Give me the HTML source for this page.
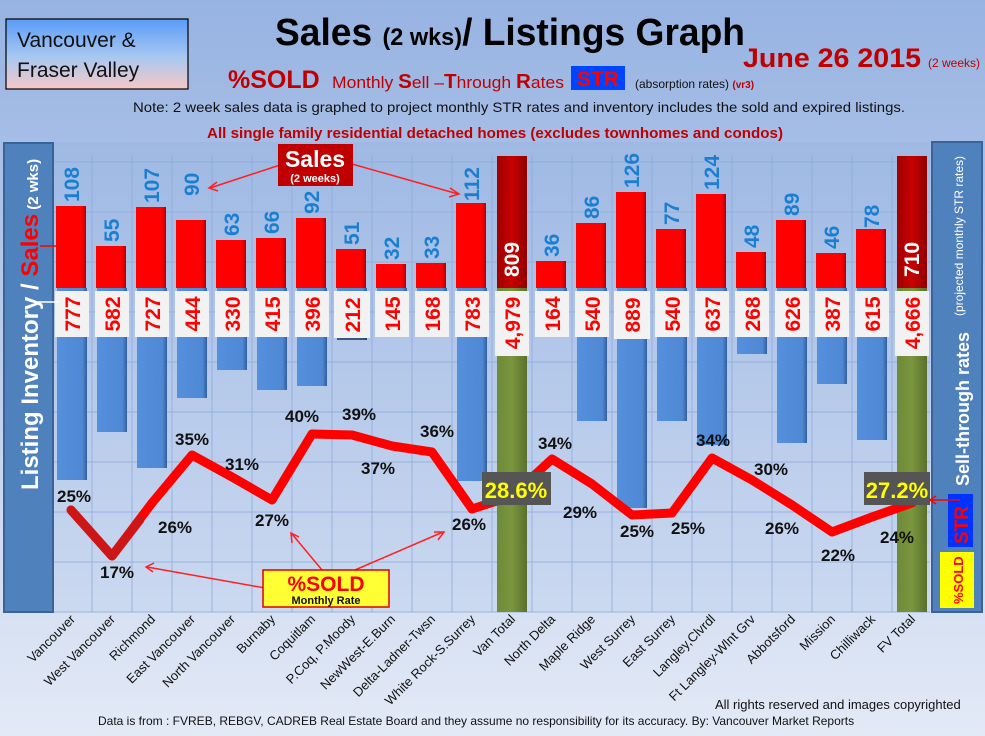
<!DOCTYPE html>
<html><head><meta charset="utf-8"><style>
html,body{margin:0;padding:0;width:985px;height:736px;overflow:hidden}
svg{display:block}
text{font-family:"Liberation Sans",sans-serif}
</style></head><body>
<svg width="985" height="736" viewBox="0 0 985 736" xmlns="http://www.w3.org/2000/svg">
<defs>
<linearGradient id="bg" x1="0" y1="0" x2="0" y2="1"><stop offset="0" stop-color="#97b3e2"/><stop offset="1" stop-color="#e3eaf6"/></linearGradient>
<linearGradient id="pa" x1="0" y1="0" x2="0" y2="1"><stop offset="0" stop-color="#9fb9e4"/><stop offset="1" stop-color="#cbd9f0"/></linearGradient>
<linearGradient id="vb" x1="0" y1="0" x2="0" y2="1"><stop offset="0" stop-color="#5a9cf8"/><stop offset="0.55" stop-color="#a8c8f0"/><stop offset="1" stop-color="#f7c8c8"/></linearGradient>
<linearGradient id="rb" x1="0" y1="0" x2="1" y2="0"><stop offset="0" stop-color="#ff0000"/><stop offset="0.85" stop-color="#ff0000"/><stop offset="1" stop-color="#b00000"/></linearGradient>
<linearGradient id="bb" x1="0" y1="0" x2="1" y2="0"><stop offset="0" stop-color="#5590dc"/><stop offset="0.85" stop-color="#4f88d4"/><stop offset="1" stop-color="#2f5fa0"/></linearGradient>
<linearGradient id="gb" x1="0" y1="0" x2="1" y2="0"><stop offset="0" stop-color="#6f8a38"/><stop offset="0.5" stop-color="#7a963e"/><stop offset="1" stop-color="#5a702c"/></linearGradient>
<linearGradient id="db" x1="0" y1="0" x2="1" y2="0"><stop offset="0" stop-color="#a00000"/><stop offset="0.5" stop-color="#c80000"/><stop offset="1" stop-color="#900000"/></linearGradient>
</defs>
<rect width="985" height="736" fill="url(#bg)"/>
<rect x="53" y="142" width="877" height="470" fill="url(#pa)"/>
<g stroke="#8eaadb" stroke-width="1" opacity="0.8">
<line x1="53" y1="162" x2="930" y2="162"/><line x1="53" y1="212" x2="930" y2="212"/><line x1="53" y1="262" x2="930" y2="262"/><line x1="53" y1="312" x2="930" y2="312"/><line x1="53" y1="362" x2="930" y2="362"/><line x1="53" y1="412" x2="930" y2="412"/><line x1="53" y1="462" x2="930" y2="462"/><line x1="53" y1="512" x2="930" y2="512"/><line x1="53" y1="562" x2="930" y2="562"/><line x1="53" y1="612" x2="930" y2="612"/>
<line x1="92" y1="155" x2="92" y2="612"/><line x1="132" y1="155" x2="132" y2="612"/><line x1="172" y1="155" x2="172" y2="612"/><line x1="212" y1="155" x2="212" y2="612"/><line x1="252" y1="155" x2="252" y2="612"/><line x1="292" y1="155" x2="292" y2="612"/><line x1="332" y1="155" x2="332" y2="612"/><line x1="372" y1="155" x2="372" y2="612"/><line x1="412" y1="155" x2="412" y2="612"/><line x1="452" y1="155" x2="452" y2="612"/><line x1="492" y1="155" x2="492" y2="612"/><line x1="532" y1="155" x2="532" y2="612"/><line x1="572" y1="155" x2="572" y2="612"/><line x1="612" y1="155" x2="612" y2="612"/><line x1="652" y1="155" x2="652" y2="612"/><line x1="692" y1="155" x2="692" y2="612"/><line x1="732" y1="155" x2="732" y2="612"/><line x1="772" y1="155" x2="772" y2="612"/><line x1="812" y1="155" x2="812" y2="612"/><line x1="852" y1="155" x2="852" y2="612"/><line x1="892" y1="155" x2="892" y2="612"/>
</g>

<g fill="url(#bb)">
<rect x="57" y="288" width="30" height="192"/><rect x="97" y="288" width="30" height="144"/><rect x="137" y="288" width="30" height="180"/><rect x="177" y="288" width="30" height="110"/><rect x="217" y="288" width="30" height="82"/><rect x="257" y="288" width="30" height="102"/><rect x="297" y="288" width="30" height="98"/><rect x="337" y="288" width="30" height="52"/><rect x="377" y="288" width="30" height="36"/><rect x="417" y="288" width="30" height="41"/><rect x="457" y="288" width="30" height="193"/>
<rect x="537" y="288" width="30" height="41"/><rect x="577" y="288" width="30" height="133"/><rect x="617" y="288" width="30" height="220"/><rect x="657" y="288" width="30" height="133"/><rect x="697" y="288" width="30" height="157"/><rect x="737" y="288" width="30" height="66"/><rect x="777" y="288" width="30" height="155"/><rect x="817" y="288" width="30" height="96"/><rect x="857" y="288" width="30" height="152"/>
</g>
<g fill="url(#rb)">
<rect x="56" y="206" width="30" height="82"/><rect x="96" y="246" width="30" height="42"/><rect x="136" y="207" width="30" height="81"/><rect x="176" y="220" width="30" height="68"/><rect x="216" y="240" width="30" height="48"/><rect x="256" y="238" width="30" height="50"/><rect x="296" y="218" width="30" height="70"/><rect x="336" y="249" width="30" height="39"/><rect x="376" y="264" width="30" height="24"/><rect x="416" y="263" width="30" height="25"/><rect x="456" y="203" width="30" height="85"/>
<rect x="536" y="261" width="30" height="27"/><rect x="576" y="223" width="30" height="65"/><rect x="616" y="192" width="30" height="96"/><rect x="656" y="229" width="30" height="59"/><rect x="696" y="194" width="30" height="94"/><rect x="736" y="252" width="30" height="36"/><rect x="776" y="220" width="30" height="68"/><rect x="816" y="253" width="30" height="35"/><rect x="856" y="229" width="30" height="59"/>
</g>
<rect x="497" y="156" width="30" height="132" fill="url(#db)"/><rect x="497" y="288" width="30" height="324" fill="url(#gb)"/>
<rect x="897" y="156" width="30" height="132" fill="url(#db)"/><rect x="897" y="288" width="30" height="324" fill="url(#gb)"/>

<g font-size="21" font-weight="bold" fill="#1a7fd0">
<text transform="translate(79,202) rotate(-90)">108</text>
<text transform="translate(119,242) rotate(-90)">55</text>
<text transform="translate(159,203) rotate(-90)">107</text>
<text transform="translate(199,196) rotate(-90)">90</text>
<text transform="translate(239,236) rotate(-90)">63</text>
<text transform="translate(279,234) rotate(-90)">66</text>
<text transform="translate(319,214) rotate(-90)">92</text>
<text transform="translate(359,245) rotate(-90)">51</text>
<text transform="translate(399,260) rotate(-90)">32</text>
<text transform="translate(439,259) rotate(-90)">33</text>
<text transform="translate(479,201) rotate(-90)">112</text>
<text transform="translate(559,257) rotate(-90)">36</text>
<text transform="translate(599,219) rotate(-90)">86</text>
<text transform="translate(639,188) rotate(-90)">126</text>
<text transform="translate(679,225) rotate(-90)">77</text>
<text transform="translate(719,190) rotate(-90)">124</text>
<text transform="translate(759,248) rotate(-90)">48</text>
<text transform="translate(799,216) rotate(-90)">89</text>
<text transform="translate(839,249) rotate(-90)">46</text>
<text transform="translate(879,228) rotate(-90)">78</text>
</g>
<g font-size="21" font-weight="bold" fill="#fff">
<text transform="translate(519,277) rotate(-90)">809</text>
<text transform="translate(919,277) rotate(-90)">710</text>
</g>

<g fill="#f2f2f2">
<rect x="55" y="291" width="34" height="46"/><rect x="95" y="291" width="34" height="46"/><rect x="135" y="291" width="34" height="46"/><rect x="175" y="291" width="34" height="46"/><rect x="215" y="291" width="34" height="46"/><rect x="255" y="291" width="34" height="46"/><rect x="295" y="291" width="34" height="46"/><rect x="334" y="291" width="36" height="47"/><rect x="375" y="291" width="34" height="46"/><rect x="415" y="291" width="34" height="46"/><rect x="455" y="291" width="34" height="46"/>
<rect x="495" y="291" width="34" height="65"/><rect x="535" y="291" width="34" height="46"/><rect x="575" y="291" width="34" height="46"/><rect x="614" y="291" width="36" height="48"/><rect x="655" y="291" width="34" height="46"/><rect x="695" y="291" width="34" height="46"/><rect x="735" y="291" width="34" height="46"/><rect x="775" y="291" width="34" height="46"/><rect x="815" y="291" width="34" height="46"/><rect x="855" y="291" width="34" height="46"/><rect x="895" y="291" width="34" height="65"/>
</g>
<line x1="337" y1="339" x2="367" y2="339" stroke="#222" stroke-width="1"/>
<g font-size="21" font-weight="bold" fill="#ff0000" text-anchor="middle">
<text transform="translate(80,314) rotate(-90)">777</text>
<text transform="translate(120,314) rotate(-90)">582</text>
<text transform="translate(160,314) rotate(-90)">727</text>
<text transform="translate(200,314) rotate(-90)">444</text>
<text transform="translate(240,314) rotate(-90)">330</text>
<text transform="translate(280,314) rotate(-90)">415</text>
<text transform="translate(320,314) rotate(-90)">396</text>
<text transform="translate(360,315) rotate(-90)">212</text>
<text transform="translate(400,314) rotate(-90)">145</text>
<text transform="translate(440,314) rotate(-90)">168</text>
<text transform="translate(480,314) rotate(-90)">783</text>
<text transform="translate(520,323) rotate(-90)">4,979</text>
<text transform="translate(560,314) rotate(-90)">164</text>
<text transform="translate(600,314) rotate(-90)">540</text>
<text transform="translate(640,315) rotate(-90)">889</text>
<text transform="translate(680,314) rotate(-90)">540</text>
<text transform="translate(720,314) rotate(-90)">637</text>
<text transform="translate(760,314) rotate(-90)">268</text>
<text transform="translate(800,314) rotate(-90)">626</text>
<text transform="translate(840,314) rotate(-90)">387</text>
<text transform="translate(880,314) rotate(-90)">615</text>
<text transform="translate(920,323) rotate(-90)">4,666</text>
</g>

<polyline points="71,510 112,556 152,503 192,455 232,477 272,500 312,434 352,435 392,446 432,452 472,509 512,496 552,459 592,484 632,515 672,513 712,458 752,480 792,505 832,532 872,517 912,503" fill="none" stroke="#ff0000" stroke-width="9" stroke-linejoin="round" stroke-linecap="round"/>
<polyline points="71,510 112,556 140,520" fill="none" stroke="#b82020" stroke-width="9" stroke-linejoin="round" stroke-linecap="round" opacity="0.7"/>

<g font-size="17" font-weight="bold" fill="#111">
<text x="57" y="502">25%</text><text x="100" y="578">17%</text><text x="158" y="533">26%</text><text x="175" y="445">35%</text><text x="225" y="470">31%</text><text x="255" y="526">27%</text><text x="285" y="422">40%</text><text x="342" y="420">39%</text><text x="361" y="474">37%</text><text x="420" y="437">36%</text><text x="452" y="530">26%</text>
<text x="538" y="449">34%</text><text x="563" y="518">29%</text><text x="620" y="537">25%</text><text x="671" y="534">25%</text><text x="696" y="446">34%</text><text x="754" y="475">30%</text><text x="765" y="534">26%</text><text x="821" y="561">22%</text><text x="880" y="543">24%</text>
</g>
<rect x="482" y="472" width="69" height="33" fill="#555"/>
<text x="516" y="498" font-size="22" font-weight="bold" fill="#ffff00" text-anchor="middle">28.6%</text>
<rect x="864" y="472" width="66" height="33" fill="#555"/>
<text x="897" y="498" font-size="22" font-weight="bold" fill="#ffff00" text-anchor="middle">27.2%</text>

<rect x="4" y="143" width="49" height="469" fill="#4f81bd" stroke="#3a6399" stroke-width="2"/>
<text transform="translate(38,490) rotate(-90)" font-size="24" font-weight="bold" fill="#fff">Listing Inventory / <tspan fill="#ff0000">Sales</tspan><tspan font-size="15"> (2  wks)</tspan></text>
<line x1="40" y1="246" x2="64" y2="246" stroke="#ff0000" stroke-width="1.5"/>
<line x1="38" y1="302" x2="58" y2="302" stroke="#fff" stroke-width="1.5"/>
<rect x="932" y="142" width="50" height="470" fill="#4f81bd" stroke="#3a6399" stroke-width="2"/>
<text transform="translate(969,486) rotate(-90)" font-size="18" font-weight="bold" fill="#fff">Sell-through rates</text>
<text transform="translate(963,316) rotate(-90)" font-size="12" fill="#fff">(projected monthly STR rates)</text>
<rect x="948" y="494" width="25" height="53" fill="#0033ff"/>
<text transform="translate(968,544) rotate(-90)" font-size="19" font-weight="bold" fill="#ff0000">STR</text>
<rect x="940" y="552" width="34" height="56" fill="#ffff00"/>
<text transform="translate(963,604) rotate(-90)" font-size="13" font-weight="bold" fill="#ff0000">%SOLD</text>
<line x1="932" y1="500" x2="960" y2="500" stroke="#ff0000" stroke-width="1.5"/>
<polyline points="936,496 930,500 936,504" fill="none" stroke="#ff0000" stroke-width="1.5"/>

<g stroke="#ff2020" stroke-width="1.5" fill="none">
<line x1="280" y1="165" x2="210" y2="188"/><polyline points="217,182 209,188 218,191"/>
<line x1="352" y1="164" x2="458" y2="194"/><polyline points="450,188 459,194 449,197"/>
<line x1="265" y1="588" x2="147" y2="567"/><polyline points="154,563 146,567 153,572"/>
<line x1="322" y1="570" x2="292" y2="534"/><polyline points="292,543 291,533 299,537"/>
<line x1="355" y1="570" x2="443" y2="532"/><polyline points="434,532 444,532 438,540"/>
</g>
<rect x="278" y="144" width="75" height="42" fill="#c00000"/>
<text x="315" y="167" font-size="23" font-weight="bold" fill="#fff" text-anchor="middle">Sales</text>
<text x="315" y="182" font-size="11" font-weight="bold" fill="#fff" text-anchor="middle">(2 weeks)</text>
<rect x="263" y="570" width="126" height="37" fill="#ffff33" stroke="#e00000" stroke-width="1.5"/>
<text x="326" y="591" font-size="21" font-weight="bold" fill="#ff0000" text-anchor="middle">%SOLD</text>
<text x="326" y="604" font-size="11" font-weight="bold" fill="#111" text-anchor="middle">Monthly Rate</text>

<g font-size="13" fill="#111" text-anchor="end">
<text transform="translate(76,620) rotate(-45)">Vancouver</text>
<text transform="translate(116,620) rotate(-45)">West Vancouver</text>
<text transform="translate(156,620) rotate(-45)">Richmond</text>
<text transform="translate(196,620) rotate(-45)">East Vancouver</text>
<text transform="translate(236,620) rotate(-45)">North Vancouver</text>
<text transform="translate(276,620) rotate(-45)">Burnaby</text>
<text transform="translate(316,620) rotate(-45)">Coquitlam</text>
<text transform="translate(356,620) rotate(-45)">P.Coq, P.Moody</text>
<text transform="translate(396,620) rotate(-45)">NewWest-E.Burn</text>
<text transform="translate(436,620) rotate(-45)">Delta-Ladner-Twsn</text>
<text transform="translate(476,620) rotate(-45)">White Rock-S.Surrey</text>
<text transform="translate(516,620) rotate(-45)">Van Total</text>
<text transform="translate(556,620) rotate(-45)">North Delta</text>
<text transform="translate(596,620) rotate(-45)">Maple Ridge</text>
<text transform="translate(636,620) rotate(-45)">West Surrey</text>
<text transform="translate(676,620) rotate(-45)">East Surrey</text>
<text transform="translate(716,620) rotate(-45)">Langley,Clvrdl</text>
<text transform="translate(756,620) rotate(-45)">Ft Langley-Wlnt Grv</text>
<text transform="translate(796,620) rotate(-45)">Abbotsford</text>
<text transform="translate(836,620) rotate(-45)">Mission</text>
<text transform="translate(876,620) rotate(-45)">Chilliwack</text>
<text transform="translate(916,620) rotate(-45)">FV Total</text>
</g>
<text x="715" y="709" font-size="13" fill="#111">All rights reserved and  images copyrighted</text>
<text x="98" y="725" font-size="12" fill="#111">Data is from : FVREB, REBGV, CADREB Real Estate Board and they assume no responsibility for its accuracy. By: Vancouver Market Reports</text>

<rect x="6" y="19" width="182" height="70" fill="url(#vb)" stroke="#000" stroke-width="1.2"/>
<text x="17" y="47" font-size="21" fill="#111">Vancouver &amp;</text>
<text x="17" y="77" font-size="21" fill="#111">Fraser Valley</text>
<text x="275" y="45" font-size="38" font-weight="bold" fill="#000" textLength="470" lengthAdjust="spacingAndGlyphs">Sales <tspan font-size="24">(2 wks)</tspan>/ Listings Graph</text>
<text x="743" y="67" font-size="27" font-weight="bold" fill="#c00000" textLength="178" lengthAdjust="spacingAndGlyphs">June 26 2015</text>
<text x="928" y="67" font-size="12" fill="#c00000">(2 weeks)</text>
<text x="228" y="88" font-size="25" font-weight="bold" fill="#c00000">%SOLD</text>
<text x="332" y="88" font-size="17" fill="#c00000" textLength="232" lengthAdjust="spacingAndGlyphs">Monthly <tspan font-weight="bold" font-size="20">S</tspan>ell –<tspan font-weight="bold" font-size="20">T</tspan>hrough <tspan font-weight="bold" font-size="20">R</tspan>ates</text>
<rect x="571" y="66" width="54" height="24" fill="#0044ff"/>
<text x="598" y="86" font-size="21" font-weight="bold" fill="#ff0000" text-anchor="middle">STR</text>
<text x="635" y="88" font-size="12" fill="#111">(absorption rates) <tspan fill="#c00000" font-weight="bold" font-size="10">(vr3)</tspan></text>
<text x="133" y="112" font-size="14" fill="#111" textLength="772" lengthAdjust="spacingAndGlyphs">Note: 2 week sales data is graphed to project monthly STR rates and inventory includes the sold and expired listings.</text>
<text x="207" y="138" font-size="15" font-weight="bold" fill="#c00000" textLength="576" lengthAdjust="spacingAndGlyphs">All single family residential detached homes (excludes townhomes and condos)</text>
</svg>
</body></html>
